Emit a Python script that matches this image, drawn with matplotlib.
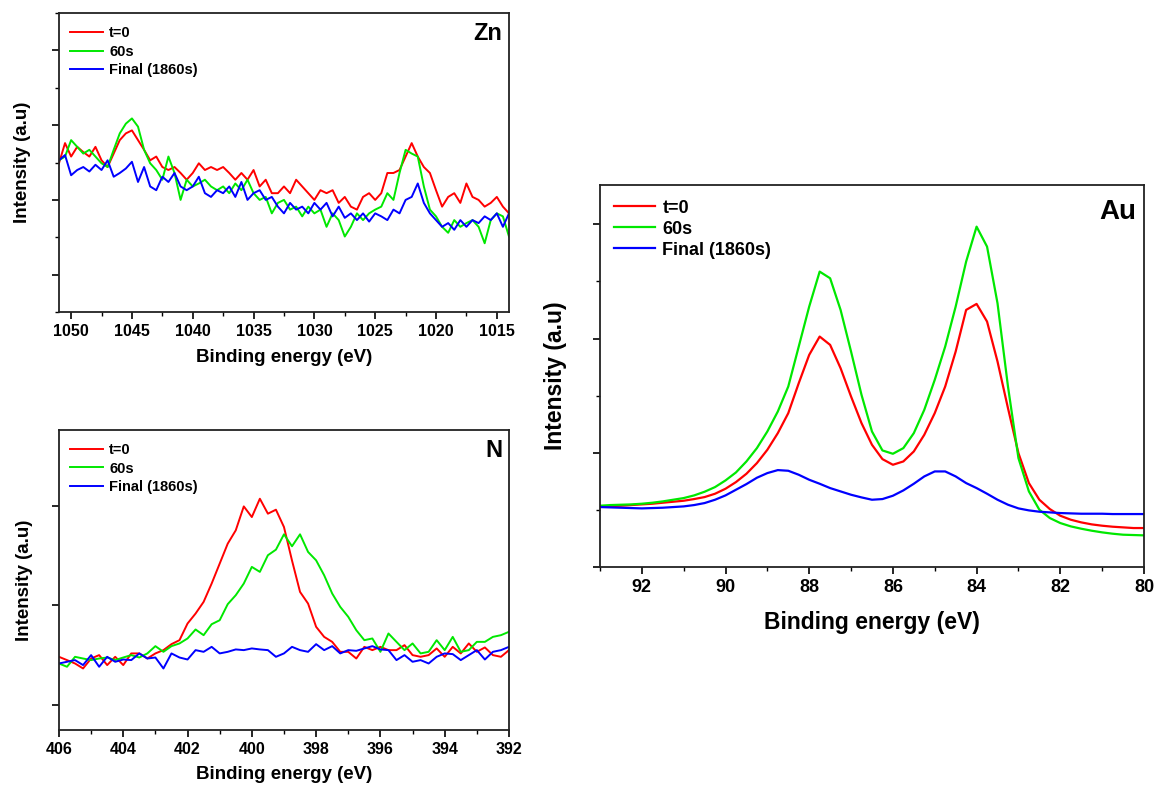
import matplotlib.pyplot as plt
import numpy as np
from matplotlib.ticker import MultipleLocator

plt.rcParams['font.family'] = ['Liberation Sans', 'DejaVu Sans']
plt.rcParams['font.weight'] = 'bold'
plt.rcParams['axes.labelweight'] = 'bold'

RED = '#ff0000'
GREEN = '#00e800'
BLUE = '#0000ff'
SERIES_LABELS = ['t=0', '60s', 'Final (1860s)']

# Zn 2p region, 0.5 eV steps from 1051 down to 1014 eV (arb. units)
zn_energy = np.arange(1051.0, 1013.9, -0.5)
zn_t0 = [
    2.49, 2.76, 2.58, 2.71, 2.64, 2.58, 2.71, 2.53, 2.44, 2.62,
    2.80, 2.89, 2.93, 2.80, 2.67, 2.53, 2.58, 2.44, 2.40, 2.44,
    2.36, 2.27, 2.36, 2.49, 2.40, 2.44, 2.40, 2.44, 2.36, 2.27,
    2.36, 2.27, 2.40, 2.18, 2.27, 2.09, 2.09, 2.18, 2.09, 2.27,
    2.18, 2.09, 2.00, 2.13, 2.09, 2.13, 1.96, 2.04, 1.91, 1.87,
    2.04, 2.09, 2.00, 2.09, 2.36, 2.36, 2.40, 2.58, 2.76, 2.58,
    2.44, 2.36, 2.13, 1.91, 2.04, 2.09, 1.96, 2.22, 2.04, 2.00,
    1.91, 1.96, 2.04, 1.91, 1.82,
]
zn_60s = [
    2.53, 2.58, 2.80, 2.71, 2.62, 2.67, 2.58, 2.49, 2.44, 2.67,
    2.89, 3.02, 3.09, 2.98, 2.67, 2.49, 2.40, 2.27, 2.58, 2.36,
    2.00, 2.27, 2.18, 2.22, 2.27, 2.18, 2.13, 2.18, 2.09, 2.22,
    2.13, 2.27, 2.09, 2.00, 2.04, 1.82, 1.96, 2.00, 1.87, 1.91,
    1.78, 1.91, 1.82, 1.87, 1.64, 1.82, 1.73, 1.51, 1.64, 1.82,
    1.73, 1.82, 1.87, 1.91, 2.09, 2.00, 2.36, 2.67, 2.62, 2.58,
    2.18, 1.87, 1.78, 1.64, 1.56, 1.73, 1.64, 1.69, 1.73, 1.64,
    1.42, 1.73, 1.82, 1.78, 1.51,
]
zn_final = [
    2.53, 2.60, 2.33, 2.40, 2.44, 2.38, 2.47, 2.40, 2.53, 2.31,
    2.36, 2.42, 2.51, 2.24, 2.44, 2.18, 2.13, 2.31, 2.24, 2.36,
    2.18, 2.13, 2.18, 2.31, 2.09, 2.04, 2.13, 2.09, 2.18, 2.04,
    2.24, 2.00, 2.09, 2.13, 2.00, 2.04, 1.91, 1.82, 1.96, 1.87,
    1.91, 1.82, 1.96, 1.87, 1.96, 1.78, 1.91, 1.76, 1.82, 1.73,
    1.82, 1.71, 1.82, 1.78, 1.73, 1.87, 1.82, 2.00, 2.04, 2.22,
    1.96, 1.82, 1.73, 1.64, 1.69, 1.60, 1.73, 1.64, 1.73, 1.69,
    1.78, 1.73, 1.82, 1.64, 1.82,
]

# N 1s region, 0.25 eV steps from 406 down to 392 eV
n_energy = np.arange(406.0, 391.9, -0.25)
n_t0 = [
    1.484, 1.451, 1.417, 1.367, 1.467, 1.501, 1.401, 1.484, 1.401, 1.518,
    1.518, 1.467, 1.518, 1.551, 1.611, 1.651, 1.818, 1.918, 2.035, 2.219,
    2.419, 2.619, 2.753, 2.993, 2.886, 3.070, 2.920, 2.960, 2.786, 2.450,
    2.135, 2.018, 1.785, 1.684, 1.634, 1.534, 1.534, 1.467, 1.584, 1.551,
    1.584, 1.551, 1.551, 1.601, 1.501, 1.484, 1.501, 1.568, 1.484, 1.584,
    1.518, 1.618, 1.534, 1.578, 1.501, 1.484, 1.551,
]
n_60s = [
    1.417, 1.384, 1.484, 1.467, 1.451, 1.467, 1.477, 1.451, 1.477, 1.501,
    1.477, 1.518, 1.591, 1.534, 1.591, 1.618, 1.668, 1.758, 1.701, 1.811,
    1.851, 2.012, 2.102, 2.219, 2.386, 2.336, 2.503, 2.559, 2.713, 2.593,
    2.713, 2.536, 2.452, 2.302, 2.119, 1.985, 1.885, 1.751, 1.651, 1.668,
    1.534, 1.718, 1.634, 1.551, 1.618, 1.518, 1.534, 1.651, 1.551, 1.684,
    1.534, 1.551, 1.634, 1.634, 1.684, 1.701, 1.735,
]
n_final = [
    1.417, 1.434, 1.451, 1.401, 1.501, 1.384, 1.484, 1.434, 1.457, 1.451,
    1.518, 1.467, 1.477, 1.367, 1.518, 1.477, 1.457, 1.551, 1.534, 1.584,
    1.518, 1.534, 1.558, 1.551, 1.568, 1.558, 1.551, 1.484, 1.518, 1.584,
    1.551, 1.534, 1.611, 1.551, 1.591, 1.518, 1.551, 1.544, 1.568, 1.591,
    1.558, 1.551, 1.451, 1.501, 1.434, 1.451, 1.417, 1.484, 1.518, 1.511,
    1.451, 1.501, 1.551, 1.457, 1.534, 1.551, 1.584,
]

# Au 4f region, 0.25 eV steps from 93 down to 80 eV (counts, arb.)
au_energy = np.arange(93.0, 79.9, -0.25)
au_t0 = [
    182, 183, 184, 186, 188, 190, 193, 196, 199, 204,
    210, 220, 235, 255, 280, 312, 352, 402, 462, 552,
    637, 692, 667, 597, 512, 432, 367, 324, 307, 317,
    347, 397, 462, 542, 647, 772, 790, 737, 617, 477,
    342, 252, 202, 174, 154, 142, 134, 128, 124, 121,
    119, 117, 117,
]
au_60s = [
    184, 186, 187, 188, 190, 193, 197, 202, 207, 215,
    226, 240, 260, 284, 317, 357, 407, 467, 542, 662,
    782, 887, 867, 772, 647, 517, 407, 350, 340, 357,
    402, 472, 562, 662, 782, 917, 1022, 962, 792, 542,
    327, 227, 172, 147, 132, 122, 115, 109, 104, 100,
    97, 96, 95,
]
au_final = [
    180, 179, 178, 177, 176, 177, 178, 180, 182, 186,
    192, 202, 215, 232, 249, 268, 282, 291, 289, 277,
    262, 250, 237, 227, 217, 209, 202, 204, 214, 230,
    250, 272, 287, 287, 272, 252, 237, 220, 202, 187,
    176, 170, 166, 164, 162, 161, 160, 160, 160, 159,
    159, 159, 159,
]


def draw_panel(ax, energy, series, xlim, ylim, xmajor, xminor, ymajor, yminor,
               tag, label_size, tick_size, legend_size, tag_size,
               xlabelpad, ylabelpad, legend_top, spacing, lw):

    for values, color, label in zip(series, [RED, GREEN, BLUE], SERIES_LABELS):
        ax.plot(energy, values, color=color, linewidth=lw, label=label)

    ax.set_xlim(*xlim)
    ax.set_ylim(*ylim)

    ax.xaxis.set_major_locator(MultipleLocator(xmajor))
    ax.xaxis.set_minor_locator(MultipleLocator(xminor))
    ax.yaxis.set_major_locator(MultipleLocator(ymajor))
    if yminor:
        ax.yaxis.set_minor_locator(MultipleLocator(yminor))

    ax.tick_params(which='major', direction='out', length=5, width=1.2,
                   labelsize=tick_size, labelleft=False)
    ax.tick_params(which='minor', direction='out', length=3, width=1.0)
    for label in ax.get_xticklabels():
        label.set_fontweight('bold')

    for spine in ax.spines.values():
        spine.set_linewidth(1.3)
        spine.set_color('#222222')

    ax.set_xlabel('Binding energy (eV)', fontsize=label_size, fontweight='bold',
                  labelpad=xlabelpad)
    ax.set_ylabel('Intensity (a.u)', fontsize=label_size, fontweight='bold',
                  labelpad=ylabelpad)

    ax.legend(loc='upper left', bbox_to_anchor=(0.005, legend_top),
              frameon=False, handlelength=2.3, handletextpad=0.4,
              labelspacing=spacing, borderaxespad=0.2,
              prop={'weight': 'bold', 'size': legend_size})

    ax.text(0.985, 0.93, tag, transform=ax.transAxes, ha='right', va='center',
            fontsize=tag_size, fontweight='bold')


fig = plt.figure(figsize=(11.56, 7.85), dpi=100)

ax_zn = fig.add_axes([0.0510, 0.6025, 0.3893, 0.3809])
draw_panel(ax_zn, zn_energy, [zn_t0, zn_60s, zn_final],
           (1051, 1014), (0.5, 4.5), 5, 2.5, 1, 0.5,
           'Zn', 13.5, 11.5, 10.5, 17, 7, 14, 0.985, 0.3, 1.4)

ax_n = fig.add_axes([0.0510, 0.0701, 0.3893, 0.3822])
draw_panel(ax_n, n_energy, [n_t0, n_60s, n_final],
           (406, 392), (0.75, 3.76), 2, 1, 1, None,
           'N', 13.5, 11.5, 10.5, 17, 7, 14, 0.985, 0.3, 1.4)

ax_au = fig.add_axes([0.5190, 0.2777, 0.4706, 0.4866])
draw_panel(ax_au, au_energy, [au_t0, au_60s, au_final],
           (93, 80), (0, 1147), 2, 1, 343, 171.5,
           'Au', 16.5, 13, 13, 20, 11, 17, 0.99, 0.22, 1.6)

fig.savefig('out.png', dpi=100)
